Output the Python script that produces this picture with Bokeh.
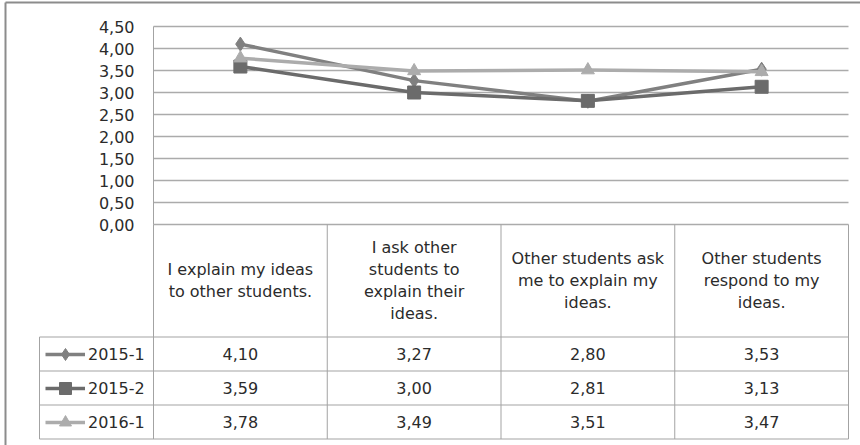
import numpy as np
from bokeh.plotting import figure
from bokeh.models import (Range1d, LinearAxis, FixedTicker, Grid, ColumnDataSource,
                          Legend, LegendItem)
from bokeh.core.properties import value
from bokeh.embed import file_html
from bokeh.resources import INLINE

# ---------------- data ----------------
categories = [
    "I explain my ideas\nto other students.",
    "I ask other\nstudents to\nexplain their\nideas.",
    "Other students ask\nme to explain my\nideas.",
    "Other students\nrespond to my\nideas.",
]
series_names = ["2015-1", "2015-2", "2016-1"]
s2015_1 = [4.10, 3.27, 2.80, 3.53]
s2015_2 = [3.59, 3.00, 2.81, 3.13]
s2016_1 = [3.78, 3.49, 3.51, 3.47]
y_ticks = [0.0, 0.5, 1.0, 1.5, 2.0, 2.5, 3.0, 3.5, 4.0, 4.5]
y_tick_labels = ["0,00", "0,50", "1,00", "1,50", "2,00", "2,50", "3,00", "3,50", "4,00", "4,50"]

# ---------------- styles ----------------
FONT = "DejaVu Sans"
TXT = "#2b2b2b"
GRID_C = "#ababab"
TABLE_C = "#a3a3a3"
BORDER_C = "#8c8c8c"
colors = ["#808080", "#6b6b6b", "#acacac"]
markers = ["diamond", "square", "triangle"]
msizes = [14, 13, 13]

# ---------------- layout (pixels) ----------------
W, H = 860, 445
FRAME_L, FRAME_T = 5, 2
PLOT_L, PLOT_R = 153, 848
PLOT_B = 224
PX_PER_Y = 44
HEADER_B = 336.5
ROW_H = 34
LEG_L = 39

n = len(categories)
px_per_x = (PLOT_R - PLOT_L) / n


def xd(px):
    return (px - PLOT_L) / px_per_x


def yd(py):
    return (PLOT_B - py) / PX_PER_Y


p = figure(width=W, height=H,
           x_range=Range1d(xd(FRAME_L), xd(W)),
           y_range=Range1d(yd(H), yd(FRAME_T)),
           x_axis_type=None, y_axis_type=None,
           toolbar_location=None, output_backend="svg",
           min_border_left=FRAME_L, min_border_top=FRAME_T,
           min_border_right=0, min_border_bottom=0,
           outline_line_color=None, background_fill_color="white",
           border_fill_color="white")

# outer border (left / top) via bare axes
for place in ("left", "above"):
    b = LinearAxis(ticker=FixedTicker(ticks=[]), axis_line_color=BORDER_C, axis_line_width=2,
                   major_tick_line_color=None, minor_tick_line_color=None,
                   major_tick_out=0, minor_tick_out=0, major_label_standoff=0,
                   major_label_text_font_size="0px")
    p.add_layout(b, place)

# value axis placed at the left edge of the plot area
y_ticker = FixedTicker(ticks=y_ticks)
yaxis = LinearAxis(ticker=y_ticker, fixed_location=0, bounds=(0, max(y_ticks)),
                   axis_line_color=TABLE_C, axis_line_width=1,
                   major_tick_line_color=None, minor_tick_line_color=None,
                   major_tick_out=0, major_tick_in=0, minor_tick_out=0,
                   major_label_standoff=19,
                   major_label_overrides=dict(zip(y_ticks, y_tick_labels)),
                   major_label_text_font=FONT, major_label_text_font_size="16px",
                   major_label_text_color=TXT)
p.add_layout(yaxis, "left")

grid = Grid(dimension=1, ticker=y_ticker, cross_bounds=(0, n),
            grid_line_color=GRID_C, grid_line_width=1.5)
p.add_layout(grid)

# ---------------- data table lines ----------------
row_tops = [HEADER_B + i * ROW_H for i in range(len(series_names) + 1)]
table_bottom = row_tops[-1]
x0s, y0s, x1s, y1s = [], [], [], []
for py in row_tops:
    x0s.append(xd(LEG_L)); x1s.append(n); y0s.append(yd(py)); y1s.append(yd(py))
for i in range(n + 1):
    x0s.append(i); x1s.append(i); y0s.append(0); y1s.append(yd(table_bottom))
x0s.append(xd(LEG_L)); x1s.append(xd(LEG_L)); y0s.append(yd(HEADER_B)); y1s.append(yd(table_bottom))
p.segment(x0=x0s, y0=y0s, x1=x1s, y1=y1s, line_color=TABLE_C, line_width=1)

# header texts
cx = list(np.arange(n) + 0.5)
p.text(x=cx, y=[yd((PLOT_B + HEADER_B) / 2)] * n, text=categories,
       text_align="center", text_baseline="middle", text_font=value(FONT),
       text_font_size="16px", text_line_height=1.15, text_color=TXT)

# value cells
all_series = [s2015_1, s2015_2, s2016_1]
tx, ty, tt = [], [], []
for r, s in enumerate(all_series):
    for i, v in enumerate(s):
        tx.append(cx[i])
        ty.append(yd(HEADER_B + ROW_H * r + ROW_H / 2))
        tt.append(f"{v:.2f}".replace(".", ","))
p.text(x=tx, y=ty, text=tt, text_align="center", text_baseline="middle",
       text_font=value(FONT), text_font_size="16px", text_color=TXT)

# ---------------- series ----------------
items = []
for name, s, c, m, ms in zip(series_names, all_series, colors, markers, msizes):
    src = ColumnDataSource(dict(x=cx, y=s))
    lr = p.line("x", "y", source=src, line_color=c, line_width=3.5, line_join="round")
    sr = p.scatter("x", "y", source=src, marker=m, size=ms, fill_color=c, line_color=c)
    items.append(LegendItem(label=name, renderers=[lr, sr]))

legend = Legend(items=items, location=(45 - FRAME_L, H - 437),
                glyph_width=40, glyph_height=30, label_height=30, spacing=4,
                padding=0, margin=0, border_line_color=None,
                background_fill_alpha=0, label_standoff=3,
                label_text_font=FONT, label_text_font_size="16px",
                label_text_color=TXT)
p.add_layout(legend)

open("out.html", "w").write(file_html(p, INLINE))
